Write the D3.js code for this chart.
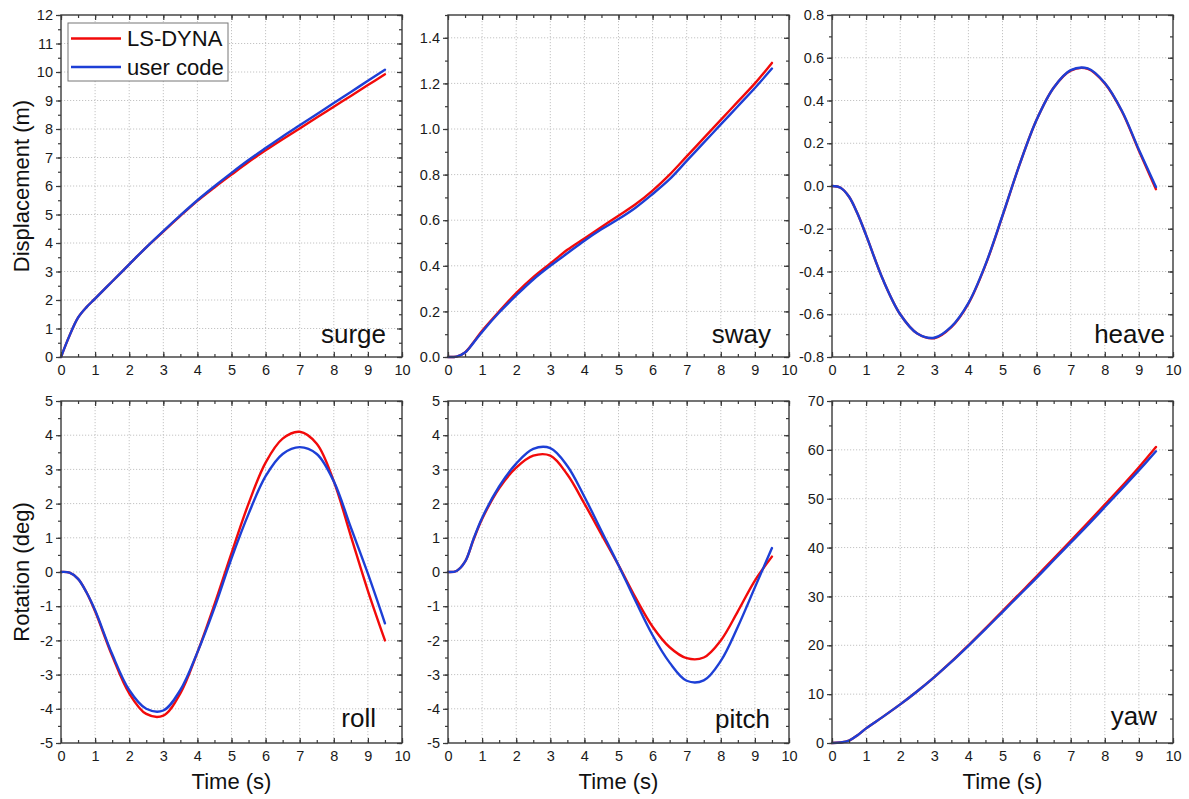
<!DOCTYPE html>
<html>
<head>
<meta charset="utf-8">
<script src="https://cdn.jsdelivr.net/npm/d3@7"></script>
<style>
  html, body { margin: 0; padding: 0; background: #fff; }
  svg { display: block; font-family: "Liberation Sans", Arial, sans-serif; }
</style>
</head>
<body>
<svg id="chart" width="1189" height="799"></svg>
<script>
// Sample times (s) shared by every response history
const time = [0, 0.25, 0.5, 0.75, 1, 1.5, 2, 2.5, 3, 3.5, 4, 4.5, 5, 5.5, 6, 6.5, 7, 7.5, 8, 8.5, 9, 9.5];

// Displacements (m)
const surgeLsDyna = [0, 0.75, 1.38, 1.75, 2.05, 2.65, 3.25, 3.85, 4.4, 4.95, 5.48, 5.95, 6.4, 6.84, 7.25, 7.64, 8.02, 8.4, 8.78, 9.16, 9.54, 9.92];
const surgeUser   = [0, 0.75, 1.38, 1.75, 2.05, 2.65, 3.25, 3.85, 4.42, 4.97, 5.5, 5.99, 6.46, 6.91, 7.33, 7.74, 8.13, 8.52, 8.91, 9.3, 9.69, 10.08];
const swayLsDyna  = [0, 0.002, 0.02, 0.065, 0.115, 0.2, 0.28, 0.35, 0.41, 0.47, 0.52, 0.57, 0.62, 0.67, 0.73, 0.8, 0.88, 0.96, 1.04, 1.12, 1.2, 1.29];
const swayUser    = [0, 0.002, 0.02, 0.063, 0.11, 0.195, 0.27, 0.34, 0.4, 0.455, 0.51, 0.56, 0.605, 0.655, 0.715, 0.78, 0.86, 0.94, 1.02, 1.1, 1.18, 1.265];
const heaveLsDyna = [0, -0.008, -0.05, -0.13, -0.23, -0.44, -0.6, -0.69, -0.712, -0.66, -0.55, -0.37, -0.14, 0.1, 0.31, 0.46, 0.54, 0.548, 0.48, 0.35, 0.165, -0.015];
const heaveUser   = [0, -0.008, -0.05, -0.13, -0.23, -0.44, -0.6, -0.69, -0.71, -0.658, -0.548, -0.368, -0.138, 0.1, 0.31, 0.46, 0.542, 0.55, 0.482, 0.352, 0.17, -0.005];

// Rotations (deg)
const rollLsDyna  = [0, -0.02, -0.2, -0.6, -1.15, -2.45, -3.55, -4.15, -4.2, -3.55, -2.35, -0.95, 0.55, 2.0, 3.2, 3.9, 4.1, 3.75, 2.65, 1.05, -0.55, -2.0];
const rollUser    = [0, -0.02, -0.2, -0.6, -1.12, -2.4, -3.45, -4.0, -4.05, -3.45, -2.35, -1.05, 0.4, 1.7, 2.8, 3.45, 3.65, 3.45, 2.65, 1.3, -0.05, -1.5];
const pitchLsDyna = [0, 0.03, 0.3, 0.95, 1.55, 2.45, 3.05, 3.4, 3.4, 2.85, 2.0, 1.1, 0.2, -0.75, -1.6, -2.2, -2.52, -2.5, -2.0, -1.15, -0.25, 0.45];
const pitchUser   = [0, 0.03, 0.3, 0.97, 1.58, 2.5, 3.17, 3.6, 3.62, 3.1, 2.2, 1.2, 0.2, -0.85, -1.85, -2.65, -3.18, -3.17, -2.6, -1.6, -0.45, 0.7];
const yawLsDyna   = [0, 0.1, 0.5, 1.6, 3.0, 5.4, 7.9, 10.6, 13.5, 16.65, 20.0, 23.45, 27.0, 30.55, 34.1, 37.75, 41.4, 45.05, 48.8, 52.55, 56.45, 60.6];
const yawUser     = [0, 0.1, 0.5, 1.6, 3.0, 5.4, 7.9, 10.6, 13.5, 16.6, 19.9, 23.3, 26.8, 30.3, 33.8, 37.4, 41.0, 44.6, 48.3, 52.0, 55.8, 59.7];

// Axis ticks
const timeTicks  = [0, 1, 2, 3, 4, 5, 6, 7, 8, 9, 10];
const surgeTicks = [0, 1, 2, 3, 4, 5, 6, 7, 8, 9, 10, 11, 12];
const swayTicks  = [0, 0.2, 0.4, 0.6, 0.8, 1.0, 1.2, 1.4];
const heaveTicks = [-0.8, -0.6, -0.4, -0.2, 0, 0.2, 0.4, 0.6, 0.8];
const rollTicks  = [-5, -4, -3, -2, -1, 0, 1, 2, 3, 4, 5];
const pitchTicks = [-5, -4, -3, -2, -1, 0, 1, 2, 3, 4, 5];
const yawTicks   = [0, 10, 20, 30, 40, 50, 60, 70];

const seriesNames = ["LS-DYNA", "user code"];
const seriesColors = ["#f20a0a", "#1d3fd6"];

const panels = [
  { label: "surge", ls: surgeLsDyna, user: surgeUser, ticks: surgeTicks, top: 12,  fmt: d3.format("d"),   col: 0, row: 0, labelDx: 16, labelDy: 14 },
  { label: "sway",  ls: swayLsDyna,  user: swayUser,  ticks: swayTicks,  top: 1.5, fmt: d3.format(".1f"), col: 1, row: 0, labelDx: 18, labelDy: 14 },
  { label: "heave", ls: heaveLsDyna, user: heaveUser, ticks: heaveTicks, top: 0.8, fmt: d3.format(".1f"), col: 2, row: 0, labelDx: 8,  labelDy: 14 },
  { label: "roll",  ls: rollLsDyna,  user: rollUser,  ticks: rollTicks,  top: 5,   fmt: d3.format("d"),   col: 0, row: 1, labelDx: 26, labelDy: 16 },
  { label: "pitch", ls: pitchLsDyna, user: pitchUser, ticks: pitchTicks, top: 5,   fmt: d3.format("d"),   col: 1, row: 1, labelDx: 19, labelDy: 15 },
  { label: "yaw",   ls: yawLsDyna,   user: yawUser,   ticks: yawTicks,   top: 70,  fmt: d3.format("d"),   col: 2, row: 1, labelDx: 16, labelDy: 18 }
];

// Frame geometry
const colLeft = [61, 448, 832];
const plotW = 341;
const rowTop = [15, 401];
const plotH = 342;

const svg = d3.select("#chart");
const frameColor = "#3a3a3a";
const textColor = "#1a1a1a";
const fixMinus = s => s.replace("\u2212", "-");

panels.forEach(p => {
  const x0 = colLeft[p.col], y0 = rowTop[p.row];
  const g = svg.append("g").attr("transform", `translate(${x0},${y0})`);
  const lo = p.ticks[0];
  const x = d3.scaleLinear().domain([0, 10]).range([0, plotW]);
  const y = d3.scaleLinear().domain([lo, p.top]).range([plotH, 0]);

  // Dotted grid at major ticks
  g.append("g").selectAll("line").data(timeTicks.filter(t => t > 0 && t < 10)).join("line")
    .attr("x1", d => x(d)).attr("x2", d => x(d)).attr("y1", 0).attr("y2", plotH)
    .attr("stroke", "#c4c4c4").attr("stroke-width", 1).attr("stroke-dasharray", "1.2,1.8");
  g.append("g").selectAll("line").data(p.ticks.filter(t => t > lo && t < p.top)).join("line")
    .attr("x1", 0).attr("x2", plotW).attr("y1", d => y(d)).attr("y2", d => y(d))
    .attr("stroke", "#c4c4c4").attr("stroke-width", 1).attr("stroke-dasharray", "1.2,1.8");

  // Response curves
  const line = d3.line().x((d, i) => x(time[i])).y(d => y(d)).curve(d3.curveCatmullRom.alpha(0.5));
  [p.ls, p.user].forEach((vals, k) => {
    g.append("path").attr("d", line(vals)).attr("fill", "none")
      .attr("stroke", seriesColors[k]).attr("stroke-width", 2.4)
      .attr("stroke-linejoin", "round").attr("stroke-linecap", "round");
  });

  // Axes: left ticks outward, the other three sides inward
  const step = p.ticks[1] - p.ticks[0];
  const minorY = d3.range(p.ticks.length * 2 + 2).map(i => lo + i * step / 2).filter(v => v <= p.top + 1e-9);
  const minorX = d3.range(21).map(i => i * 0.5);

  const left = d3.axisLeft(y).tickValues(p.ticks).tickFormat(d => fixMinus(p.fmt(d))).tickSize(5).tickPadding(3);
  const leftMinor = d3.axisLeft(y).tickValues(minorY).tickFormat("").tickSize(3);
  const right = d3.axisRight(y).tickValues(p.ticks).tickFormat("").tickSize(-5);
  const rightMinor = d3.axisRight(y).tickValues(minorY).tickFormat("").tickSize(-3);
  const bottom = d3.axisBottom(x).tickValues(timeTicks).tickFormat(d3.format("d")).tickSizeInner(-5).tickSizeOuter(0).tickPadding(8);
  const bottomMinor = d3.axisBottom(x).tickValues(minorX).tickFormat("").tickSize(-3);
  const topAx = d3.axisTop(x).tickValues(timeTicks).tickFormat("").tickSize(-5);
  const topMinor = d3.axisTop(x).tickValues(minorX).tickFormat("").tickSize(-3);

  const axes = [
    [left, 0, 0], [leftMinor, 0, 0],
    [right, plotW, 0], [rightMinor, plotW, 0],
    [bottom, 0, plotH], [bottomMinor, 0, plotH],
    [topAx, 0, 0], [topMinor, 0, 0]
  ];
  axes.forEach(([ax, tx, ty]) => {
    const a = g.append("g").attr("transform", `translate(${tx},${ty})`).call(ax);
    a.select(".domain").remove();
    a.selectAll(".tick line").attr("stroke", frameColor).attr("stroke-width", 1.2);
    a.selectAll(".tick text").attr("fill", textColor).style("font-size", "14.5px")
      .style("font-family", "'Liberation Sans', Arial, sans-serif");
  });

  g.append("rect").attr("width", plotW).attr("height", plotH)
    .attr("fill", "none").attr("stroke", frameColor).attr("stroke-width", 1.4);

  // Motion name in the lower right corner
  g.append("text").attr("x", plotW - p.labelDx).attr("y", plotH - p.labelDy)
    .attr("text-anchor", "end").attr("fill", "#111").style("font-size", "26px").text(p.label);

  if (p.row === 1) {
    g.append("text").attr("x", plotW / 2).attr("y", plotH + 46)
      .attr("text-anchor", "middle").attr("fill", "#111").style("font-size", "22px").text("Time (s)");
  }

  // Legend in the first panel
  if (p.col === 0 && p.row === 0) {
    const lg = g.append("g").attr("transform", "translate(7,8)");
    lg.append("rect").attr("width", 160).attr("height", 58)
      .attr("fill", "#fff").attr("stroke", "#777").attr("stroke-width", 1);
    seriesNames.forEach((name, k) => {
      const yy = 15.5 + k * 28.5;
      lg.append("line").attr("x1", 3).attr("x2", 53).attr("y1", yy).attr("y2", yy)
        .attr("stroke", seriesColors[k]).attr("stroke-width", 2.4);
      lg.append("text").attr("x", 59).attr("y", yy + 7.5).attr("fill", "#111")
        .style("font-size", "22px").text(name);
    });
  }
});

// Shared y titles for each row
const yTitles = ["Displacement (m)", "Rotation (deg)"];
yTitles.forEach((t, r) => {
  const cy = rowTop[r] + plotH / 2;
  svg.append("text").attr("transform", `translate(29,${cy}) rotate(-90)`)
    .attr("text-anchor", "middle").attr("fill", "#111").style("font-size", "22px").text(t);
});
</script>
</body>
</html>
